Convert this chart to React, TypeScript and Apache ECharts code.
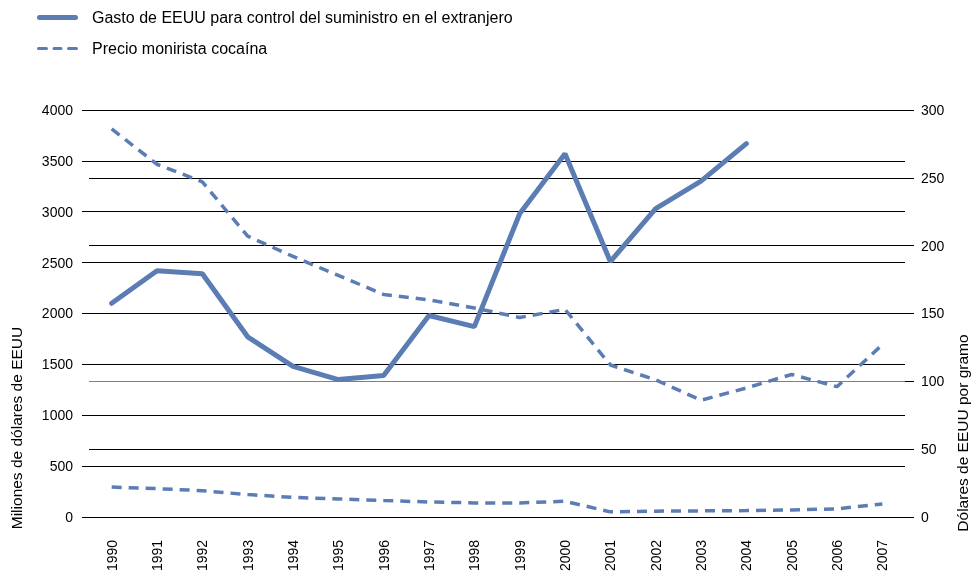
import React, { useEffect, useRef } from "react";
import * as echarts from "echarts";

const years = ["1990","1991","1992","1993","1994","1995","1996","1997","1998","1999","2000","2001","2002","2003","2004","2005","2006","2007"];
const gastoEEUU = [2100, 2420, 2390, 1770, 1480, 1350, 1390, 1980, 1870, 2980, 3570, 2510, 3030, 3300, 3670, null, null, null];
const precioCocaina = [286, 260, 247, 207, 192, 178, 164, 160, 154, 147, 153, 112, 101, 86, 95, 105, 96, 127];
const precioCocainaBajo = [22, 20.8, 19.3, 16.4, 14.4, 13.2, 12, 11, 10.3, 10.3, 11.5, 3.7, 4.2, 4.4, 4.6, 5.1, 5.9, 9.5];
const leftTicks = { min: 0, max: 4000, interval: 500 };
const rightTicks = { min: 0, max: 300, interval: 50 };
const nameGasto = "Gasto de EEUU para control del suministro en el extranjero";
const namePrecio = "Precio monirista cocaína";
const nameLeftAxis = "Miliones de dólares de EEUU";
const nameRightAxis = "Dólares de EEUU por gramo";

const FONT = "'Liberation Sans', Arial, Helvetica, sans-serif";
const BLUE = "#5b7db4";

const ICON_SOLID = "path://M2.5,0H38.5A2.5,2.5 0 0 1 38.5,5H2.5A2.5,2.5 0 0 1 2.5,0Z";
const ICON_DASH =
  "path://M1.5,1H9.5A1.5,1.5 0 0 1 9.5,4H1.5A1.5,1.5 0 0 1 1.5,1Z" +
  "M17,1H24A1.5,1.5 0 0 1 24,4H17A1.5,1.5 0 0 1 17,1Z" +
  "M31.5,1H39.5A1.5,1.5 0 0 1 39.5,4H31.5A1.5,1.5 0 0 1 31.5,1Z" +
  "M0,0.01H0.01V0.02H0Z M41,4.99H40.99V5H41Z";

export default function App() {
  const ref = useRef<HTMLDivElement>(null);
  useEffect(() => {
    if (!ref.current) return;
    const chart = echarts.init(ref.current, null, { renderer: "svg" });
    chart.setOption({
      animation: false,
      textStyle: { fontFamily: FONT },
      legend: {
        orient: "vertical",
        left: 37,
        top: 8,
        padding: 0,
        itemWidth: 41,
        itemHeight: 5,
        itemGap: 12,
        data: [
          { name: nameGasto, icon: ICON_SOLID },
          { name: namePrecio, icon: ICON_DASH },
        ],
        textStyle: { fontSize: 16, color: "#000", fontFamily: FONT, lineHeight: 19, padding: [0, 0, 0, 9] },
      },
      grid: { left: 89, right: 70, top: 110, bottom: 55 },
      xAxis: {
        type: "category",
        data: years,
        boundaryGap: true,
        axisLine: { show: false },
        axisTick: { show: false },
        axisLabel: { rotate: 90, margin: 23, fontSize: 14, color: "#000", fontFamily: FONT },
      },
      yAxis: [
        {
          type: "value",
          position: "left",
          min: leftTicks.min,
          max: leftTicks.max,
          interval: leftTicks.interval,
          axisLine: { show: false },
          axisTick: { show: true, length: 7, lineStyle: { color: "#000", width: 1 } },
          axisLabel: { margin: 16, fontSize: 14, color: "#000", fontFamily: FONT, formatter: (v: number) => String(v) },
          splitLine: { show: true, lineStyle: { color: "#000", width: 1 } },
        },
        {
          type: "value",
          position: "right",
          min: rightTicks.min,
          max: rightTicks.max,
          interval: rightTicks.interval,
          axisLine: { show: false },
          axisTick: { show: true, length: 9, lineStyle: { color: "#000", width: 1 } },
          axisLabel: { margin: 16, fontSize: 14, color: "#000", fontFamily: FONT, formatter: (v: number) => String(v) },
          splitLine: {
            show: true,
            lineStyle: { color: ["#000", "#000", "#808080", "#000", "#000", "#000", "#000"], width: 1 },
          },
        },
      ],
      graphic: [
        {
          type: "text",
          x: 16,
          y: 428,
          rotation: Math.PI / 2,
          style: { text: nameLeftAxis, fontSize: 15.5, fill: "#000", fontFamily: FONT, align: "center", verticalAlign: "middle" },
        },
        {
          type: "text",
          x: 962,
          y: 433,
          rotation: Math.PI / 2,
          style: { text: nameRightAxis, fontSize: 15.5, fill: "#000", fontFamily: FONT, align: "center", verticalAlign: "middle" },
        },
      ],
      series: [
        {
          name: nameGasto,
          type: "line",
          yAxisIndex: 0,
          data: gastoEEUU,
          symbol: "none",
          connectNulls: false,
          lineStyle: { color: BLUE, width: 5, cap: "round" },
          itemStyle: { color: BLUE },
        },
        {
          name: namePrecio,
          type: "line",
          yAxisIndex: 1,
          data: precioCocaina,
          symbol: "none",
          lineStyle: { color: BLUE, width: 3.5, type: [10, 7] },
          itemStyle: { color: BLUE },
        },
        {
          name: "precioBajo",
          type: "line",
          yAxisIndex: 1,
          data: precioCocainaBajo,
          symbol: "none",
          lineStyle: { color: BLUE, width: 3.5, type: [10, 7] },
          itemStyle: { color: BLUE },
        },
      ],
    });
    return () => chart.dispose();
  }, []);
  return <div ref={ref} style={{ position: "fixed", left: 0, top: 0, width: 975, height: 574 }} />;
}
